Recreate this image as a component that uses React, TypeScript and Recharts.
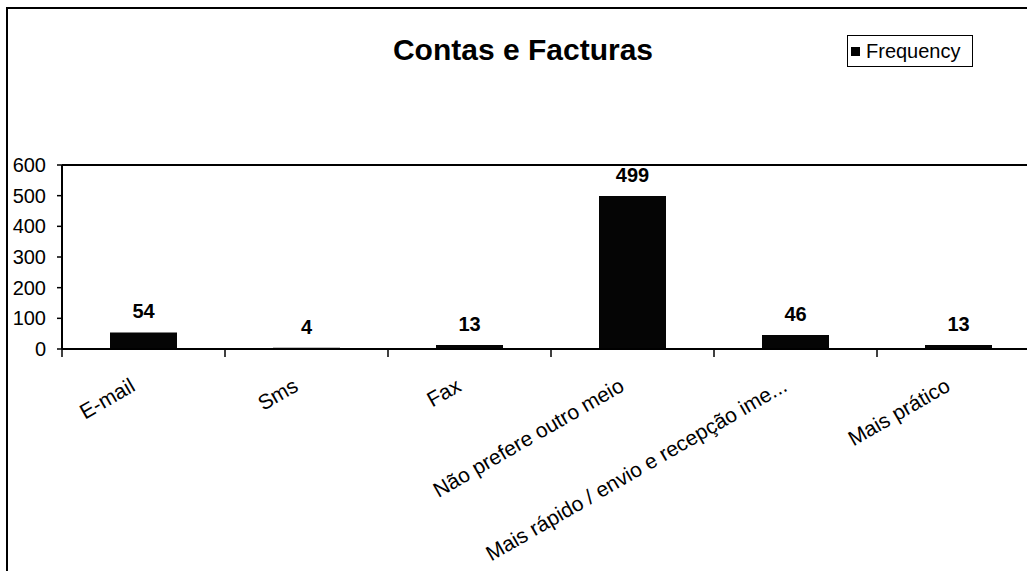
import { Bar, BarChart, LabelList, ReferenceLine, XAxis, YAxis } from "recharts";

const categories = [
  "E-mail",
  "Sms",
  "Fax",
  "Não prefere outro meio",
  "Mais rápido / envio e recepção ime...",
  "Mais prático",
];
const frequency = [54, 4, 13, 499, 46, 13];
const yTicks = [0, 100, 200, 300, 400, 500, 600];
const seriesName = "Frequency";

const data = categories.map((name, i) => ({ name, [seriesName]: frequency[i] }));

const FONT = "'Liberation Sans', Arial, sans-serif";
const CHART_W = 1060;
const CHART_H = 571;
const MARGIN = { top: 165, right: 20, left: 0, bottom: 0 };
const Y_W = 62;
const BAND = (CHART_W - MARGIN.left - MARGIN.right - Y_W) / categories.length;

function CategoryTick(props: any) {
  const { x, y, payload } = props;
  const left = x - BAND / 2;
  const tx = x - 7;
  const ty = y + 41;
  return (
    <g>
      <line x1={left} y1={y} x2={left} y2={y + 8} stroke="#000" strokeWidth={1.5} />
      <text
        x={tx}
        y={ty}
        transform={`rotate(-30 ${tx} ${ty})`}
        textAnchor="end"
        fontFamily={FONT}
        fontSize={21}
        fill="#000"
      >
        {payload.value}
      </text>
    </g>
  );
}

export default function App() {
  return (
    <div style={{ position: "absolute", left: 0, top: 0, width: 1027, height: 571, overflow: "hidden", background: "#fff" }}>
      <div
        style={{
          position: "absolute",
          left: 6,
          top: 7,
          width: 1100,
          height: 700,
          borderLeft: "2px solid #000",
          borderTop: "2px solid #000",
        }}
      />
      <div
        style={{
          position: "absolute",
          left: 0,
          top: 35,
          width: 1046,
          textAlign: "center",
          fontFamily: FONT,
          fontWeight: "bold",
          fontSize: 30,
          lineHeight: "30px",
        }}
      >
        Contas e Facturas
      </div>
      <div
        style={{
          position: "absolute",
          left: 847,
          top: 35,
          border: "1.5px solid #000",
          width: 126,
          height: 32,
          boxSizing: "border-box",
          display: "flex",
          alignItems: "center",
          paddingLeft: 3,
          fontFamily: FONT,
          fontSize: 20,
          background: "#fff",
        }}
      >
        <span style={{ width: 9, height: 9, background: "#000", display: "inline-block", marginRight: 6 }} />
        {seriesName}
      </div>
      <div style={{ position: "absolute", left: 0, top: 0 }}>
        <BarChart width={CHART_W} height={CHART_H} data={data} margin={MARGIN} barSize={67}>
          <XAxis
            dataKey="name"
            interval={0}
            height={CHART_H - 349}
            tickSize={0}
            tickMargin={0}
            tickLine={false}
            axisLine={{ stroke: "#000", strokeWidth: 2 }}
            tick={<CategoryTick />}
          />
          <YAxis
            width={Y_W}
            domain={[0, 600]}
            ticks={yTicks}
            interval={0}
            tickSize={5}
            tickMargin={11}
            axisLine={{ stroke: "#000", strokeWidth: 2 }}
            tickLine={{ stroke: "#000", strokeWidth: 1.5 }}
            tick={{ fill: "#000", fontSize: 20, fontFamily: FONT }}
          />
          <ReferenceLine y={600} stroke="#000" strokeWidth={2} />
          <Bar dataKey={seriesName} fill="#050505" isAnimationActive={false}>
            <LabelList
              dataKey={seriesName}
              position="top"
              offset={14}
              fill="#000"
              fontSize={20}
              fontWeight="bold"
              fontFamily={FONT}
            />
          </Bar>
        </BarChart>
      </div>
    </div>
  );
}
